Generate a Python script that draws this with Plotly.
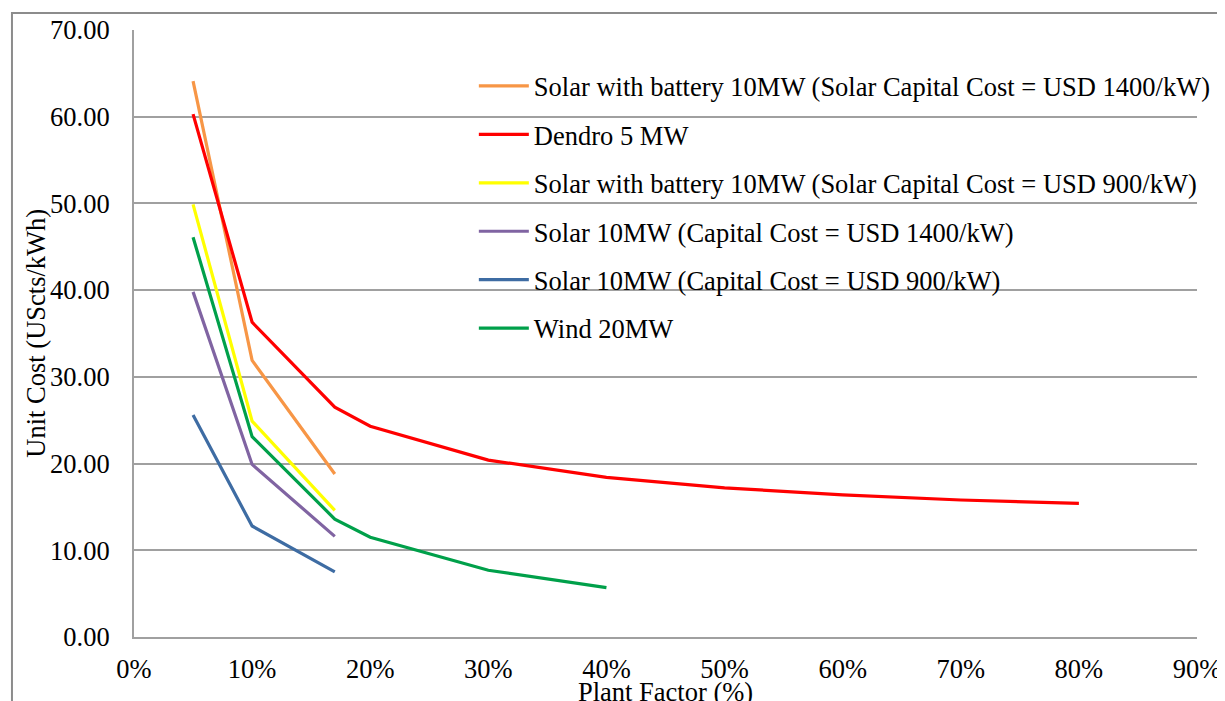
import plotly.graph_objects as go

# plant factor (fraction) and unit cost (UScts/kWh)
pf_short = [0.05, 0.10, 0.17]
pf_long = [0.05, 0.10, 0.17, 0.20, 0.30, 0.40, 0.50, 0.60, 0.70, 0.80]
pf_wind = [0.05, 0.10, 0.17, 0.20, 0.30, 0.40]

solar_batt_1400 = [64.1, 31.9, 18.8]
dendro_5mw = [60.3, 36.3, 26.5, 24.3, 20.4, 18.4, 17.2, 16.4, 15.8, 15.4]
solar_batt_900 = [49.9, 24.9, 14.6]
solar_1400 = [39.8, 19.9, 11.6]
solar_900 = [25.6, 12.8, 7.5]
wind_20mw = [46.1, 23.1, 13.6, 11.5, 7.7, 5.7]

names = [
    "Solar with battery 10MW (Solar Capital Cost = USD 1400/kW)",
    "Dendro 5 MW",
    "Solar with battery 10MW (Solar Capital Cost = USD 900/kW)",
    "Solar 10MW (Capital Cost = USD 1400/kW)",
    "Solar 10MW (Capital Cost = USD 900/kW)",
    "Wind 20MW",
]
xs = [pf_short, pf_long, pf_short, pf_short, pf_short, pf_wind]
ys = [solar_batt_1400, dendro_5mw, solar_batt_900, solar_1400, solar_900, wind_20mw]
colors = ["#F79646", "#FF0000", "#FFFF00", "#8064A2", "#3E6CA3", "#00A04A"]

FONT = "Liberation Serif"
FS = 26.5
GRID = "#A0A0A0"

fig = go.Figure()
for i, (n, x, y, c) in enumerate(zip(names, xs, ys, colors)):
    fig.add_trace(go.Scatter(x=x, y=y, name=n, mode="lines", legendgroup=str(i),
                             line=dict(color=c, width=3.2)))

# the page adds an 8px body margin, so margins are shifted to compensate
fig.update_layout(
    width=1225, height=701,
    margin=dict(l=126, r=36, t=22, b=72),
    paper_bgcolor="white", plot_bgcolor="white",
    font=dict(family=FONT, size=FS, color="black"),
    showlegend=True,
    legend=dict(x=0.3197, y=0.947, xanchor="left", yanchor="top",
                bgcolor="rgba(0,0,0,0)", traceorder="grouped", tracegroupgap=11,
                font=dict(family=FONT, size=FS), itemwidth=50),
    xaxis=dict(range=[0, 0.9], tickvals=[i / 10 for i in range(10)], tickformat=".0%",
               showgrid=False, zeroline=False, showline=True, linecolor=GRID, linewidth=2,
               ticks="", tickfont=dict(size=FS), ticklabelstandoff=7, automargin=False),
    yaxis=dict(range=[0, 70], tickvals=list(range(0, 80, 10)), tickformat=".2f",
               showgrid=True, gridcolor=GRID, gridwidth=2, zeroline=False,
               showline=True, linecolor=GRID, linewidth=2,
               ticks="", tickfont=dict(size=FS), ticklabelstandoff=17, automargin=False),
)

# axis titles
fig.add_annotation(text="Unit Cost (UScts/kWh)", xref="paper", yref="paper",
                   x=-0.093, y=0.5, xanchor="center", yanchor="middle", textangle=-90,
                   showarrow=False, font=dict(family=FONT, size=FS))
fig.add_annotation(text="Plant Factor (%)", xref="paper", yref="paper",
                   x=0.5, y=-0.091, xanchor="center", yanchor="middle", showarrow=False,
                   font=dict(family=FONT, size=FS))

# outer chart border
fig.add_shape(type="rect", xref="paper", yref="paper",
              x0=-0.1148, x1=1.3, y0=-0.3, y1=1.028,
              line=dict(color="#8C8C8C", width=2), layer="below")

fig.write_html("out.html")
